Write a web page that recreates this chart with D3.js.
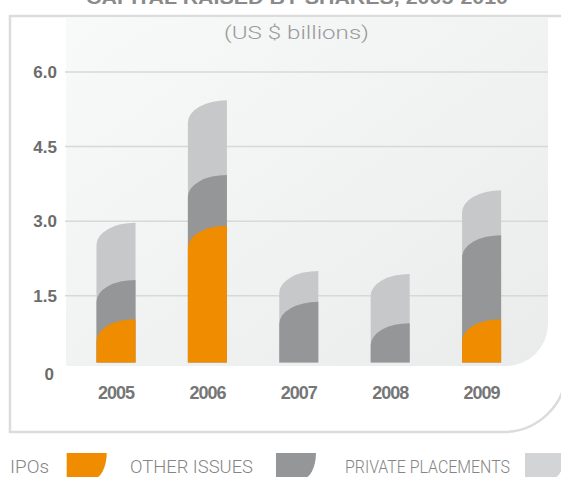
<!DOCTYPE html>
<html>
<head>
<meta charset="utf-8">
<script src="https://cdnjs.cloudflare.com/ajax/libs/d3/7.8.5/d3.min.js"></script>
<style>
    body { margin: 0; background: #fff; }
    #chart { width: 561px; height: 477px; overflow: hidden; }
</style>
</head>
<body>
<div id="chart"></div>
<script>
const years = ['2005', '2006', '2007', '2008', '2009'];
const ipos = [1.03, 2.91, 0, 0, 1.03];
const otherIssues = [0.79, 1.02, 1.38, 0.95, 1.69];
const privatePlacements = [1.15, 1.50, 0.62, 0.99, 0.90];
const yTicks = [0, 1.5, 3.0, 4.5, 6.0];
const tickLabels = ['0', '1.5', '3.0', '4.5', '6.0'];
const seriesNames = ['IPOs', 'OTHER ISSUES', 'PRIVATE PLACEMENTS'];
const colors = ['#ef8c00', '#959697', '#c7c8c9'];

const width = 561;
const height = 477;

const svg = d3.select('#chart')
    .append('svg')
    .attr('width', width)
    .attr('height', height);

const defs = svg.append('defs');
const grad = defs.append('linearGradient')
    .attr('id', 'bg')
    .attr('x1', '0%').attr('y1', '0%')
    .attr('x2', '100%').attr('y2', '100%');
grad.append('stop').attr('offset', '0%').attr('stop-color', '#f8f9f9');
grad.append('stop').attr('offset', '100%').attr('stop-color', '#eaebeb');

// outer frame, rounded bottom right
svg.append('path')
    .attr('d', 'M10,16 H566 V371 A63 61 0 0 1 503 432 H10 Z')
    .attr('fill', '#fff')
    .attr('stroke', '#dcdcdc')
    .attr('stroke-width', 2.5);

// plot background
svg.append('path')
    .attr('d', 'M66,17.5 H548 V324 A42 42 0 0 1 506 366 H66 Z')
    .attr('fill', 'url(#bg)');

const y = d3.scaleLinear()
    .domain([0, 6])
    .range([370.4, 72]);

const x = d3.scaleBand()
    .domain(years)
    .range([70.3, 527.3])
    .paddingInner(0.573)
    .paddingOuter(0.2865);

// gridlines
svg.append('g')
    .selectAll('line')
    .data(yTicks.filter(d => d > 0))
    .enter().append('line')
    .attr('x1', 65)
    .attr('x2', 548)
    .attr('y1', d => y(d))
    .attr('y2', d => y(d))
    .attr('stroke', '#d8d8d8')
    .attr('stroke-width', 1.5);

// y tick labels
svg.append('g')
    .selectAll('text')
    .data(yTicks)
    .enter().append('text')
    .attr('x', d => d === 0 ? 54 : 57)
    .attr('y', d => d === 0 ? y(d) + 3 : y(d))
    .attr('dy', '0.36em')
    .attr('text-anchor', 'end')
    .attr('font-family', 'Liberation Sans, Arial, sans-serif')
    .attr('font-weight', 'bold')
    .attr('font-size', '17px')
    .attr('fill', '#6c6c6c')
    .text((d, i) => tickLabels[i]);

const base = y(0) - 8;
const ry = 22;

function segmentPath(x0, w, top) {
    return `M${x0},${base} V${top + ry} A${w} ${ry} 0 0 1 ${x0 + w},${top} V${base} Z`;
}

// stacked segments, back to front: total, ipo+other, ipo
const segments = [];
years.forEach((yr, i) => {
    const s1 = ipos[i];
    const s2 = s1 + otherIssues[i];
    const s3 = s2 + privatePlacements[i];
    segments.push({ year: yr, top: s3, color: colors[2], v: privatePlacements[i] });
    segments.push({ year: yr, top: s2, color: colors[1], v: otherIssues[i] });
    segments.push({ year: yr, top: s1, color: colors[0], v: ipos[i] });
});

svg.append('g')
    .selectAll('path')
    .data(segments.filter(d => d.v > 0))
    .enter().append('path')
    .attr('d', d => segmentPath(x(d.year), x.bandwidth(), y(d.top)))
    .attr('fill', d => d.color);

// year labels
svg.append('g')
    .selectAll('text')
    .data(years)
    .enter().append('text')
    .attr('x', d => x(d) + x.bandwidth() / 2)
    .attr('y', 392.5)
    .attr('dy', '0.36em')
    .attr('text-anchor', 'middle')
    .attr('font-family', 'Liberation Sans, Arial, sans-serif')
    .attr('font-weight', 'bold')
    .attr('font-size', '18px')
    .attr('letter-spacing', '-1px')
    .attr('fill', '#767676')
    .text(d => d);

// title (cut off at top) and units
svg.append('text')
    .attr('x', 86)
    .attr('y', 3.5)
    .attr('textLength', 422)
    .attr('lengthAdjust', 'spacingAndGlyphs')
    .attr('font-family', 'Liberation Sans, Arial, sans-serif')
    .attr('font-weight', 'bold')
    .attr('font-size', '18px')
    .attr('fill', '#8a8a8a')
    .text('CAPITAL RAISED BY SHARES, 2005-2010');

svg.append('text')
    .attr('x', 224)
    .attr('y', 38.5)
    .attr('textLength', 145)
    .attr('lengthAdjust', 'spacingAndGlyphs')
    .attr('font-family', 'Roboto, sans-serif')
    .attr('font-weight', 300)
    .attr('font-size', '18px')
    .attr('fill', '#9a9a9a')
    .text('(US $ billions)');

// legend
const legendText = [
    { x: 10, len: 39 },
    { x: 130, len: 123 },
    { x: 345, len: 165 }
];
const legendSwatch = [66.7, 276, 525];

const legend = svg.append('g');
seriesNames.forEach((name, i) => {
    legend.append('text')
        .attr('x', legendText[i].x)
        .attr('y', 473.3)
        .attr('textLength', legendText[i].len)
        .attr('lengthAdjust', 'spacingAndGlyphs')
        .attr('font-family', 'Roboto, sans-serif')
        .attr('font-weight', 300)
        .attr('font-size', '19px')
        .attr('fill', '#858585')
        .text(name);
    const sx = legendSwatch[i];
    legend.append('path')
        .attr('d', `M${sx},453 H${sx + 40} A14 26 0 0 1 ${sx + 26},479 H${sx} Z`)
        .attr('fill', i === 2 ? '#d3d4d5' : colors[i]);
});
</script>
</body>
</html>
